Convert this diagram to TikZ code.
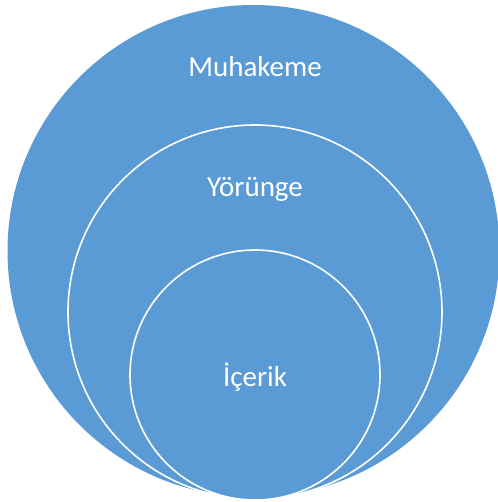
\documentclass[tikz,border=0pt]{standalone}
\usepackage{fontspec}
\setmainfont{Carlito}
\definecolor{ringblue}{HTML}{5B9BD5}
\begin{document}
\begin{tikzpicture}[x=1pt,y=-1pt,
  ring/.style={circle,fill=ringblue,inner sep=0pt},
  inner ring/.style={ring,draw=white,line width=1.6pt},
  label/.style={text=white,font=\fontsize{29}{32}\selectfont,anchor=base,inner sep=0pt}]
  \useasboundingbox (0,0) rectangle (497,502);
  % nested circles, outermost first
  \node[ring,minimum size=492pt] (outer) at (253.5,251) {};
  \node[inner ring,minimum size=374pt] (middle) at (255,312) {};
  \node[inner ring,minimum size=250pt] (inner) at (255,375) {};
  % labels
  \node[label] (tmuh) at (255,77) {Muhakeme};
  \node[label] (tyor) at (255,197) {Yörünge};
  \node[label] (tice) at (255,386) {İçerik};
\end{tikzpicture}
\end{document}
